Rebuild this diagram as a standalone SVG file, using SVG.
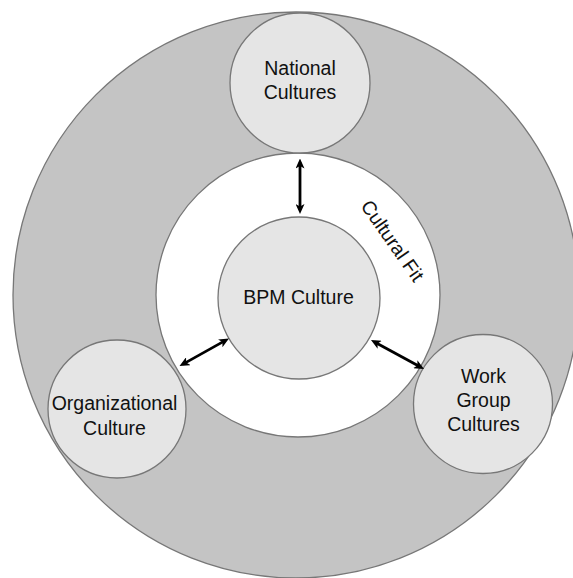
<svg xmlns="http://www.w3.org/2000/svg" width="573" height="578" viewBox="0 0 573 578">
  <style>
    .ring { stroke: #777777; stroke-width: 1.3; }
    .node { fill: #e5e5e5; stroke: #777777; stroke-width: 1.3; }
    .lbl { font-family: "Liberation Sans", Arial, Helvetica, sans-serif; font-size: 19.5px; fill: #111; text-anchor: middle; }
    .conn { stroke: #000; stroke-width: 2.8; fill: none; marker-start: url(#ah); marker-end: url(#ah); }
  </style>
  <defs>
    <marker id="ah" markerUnits="userSpaceOnUse" viewBox="0 0 10 9" markerWidth="10" markerHeight="9" refX="6" refY="4.5" orient="auto-start-reverse">
      <path d="M0,0 L10,4.5 L0,9 L2.5,4.5 z" fill="#000"/>
    </marker>
  </defs>
  <rect width="573" height="578" fill="#ffffff"/>
  <g id="outer-ring">
    <circle class="ring" cx="296" cy="295" r="283" fill="#c4c4c4"/>
  </g>
  <g id="cultural-fit">
    <circle class="ring" cx="298" cy="295" r="142" fill="#ffffff"/>
    <text class="lbl" transform="translate(387,244.5) rotate(55)" x="0" y="0">Cultural Fit</text>
  </g>
  <g id="national-cultures">
    <circle class="node" cx="300" cy="83" r="70"/>
    <text class="lbl" x="300" y="74.7">National</text>
    <text class="lbl" x="300" y="98.5">Cultures</text>
  </g>
  <g id="bpm-culture">
    <circle class="node" cx="299" cy="298" r="81"/>
    <text class="lbl" x="298.5" y="304">BPM Culture</text>
  </g>
  <g id="organizational-culture">
    <circle class="node" cx="117" cy="409" r="69"/>
    <text class="lbl" x="114.5" y="409.5">Organizational</text>
    <text class="lbl" x="114.5" y="434.5">Culture</text>
  </g>
  <g id="work-group-cultures">
    <circle class="node" cx="483" cy="404" r="69.5"/>
    <text class="lbl" x="483.5" y="382.7">Work</text>
    <text class="lbl" x="483.5" y="406.7">Group</text>
    <text class="lbl" x="483.5" y="430.7">Cultures</text>
  </g>
  <g id="connectors">
    <line class="conn" x1="300" y1="162.5" x2="300" y2="210"/>
    <line class="conn" x1="183" y1="364.1" x2="225.5" y2="340.4"/>
    <line class="conn" x1="374.5" y1="341.9" x2="420.5" y2="367.1"/>
  </g>
</svg>
